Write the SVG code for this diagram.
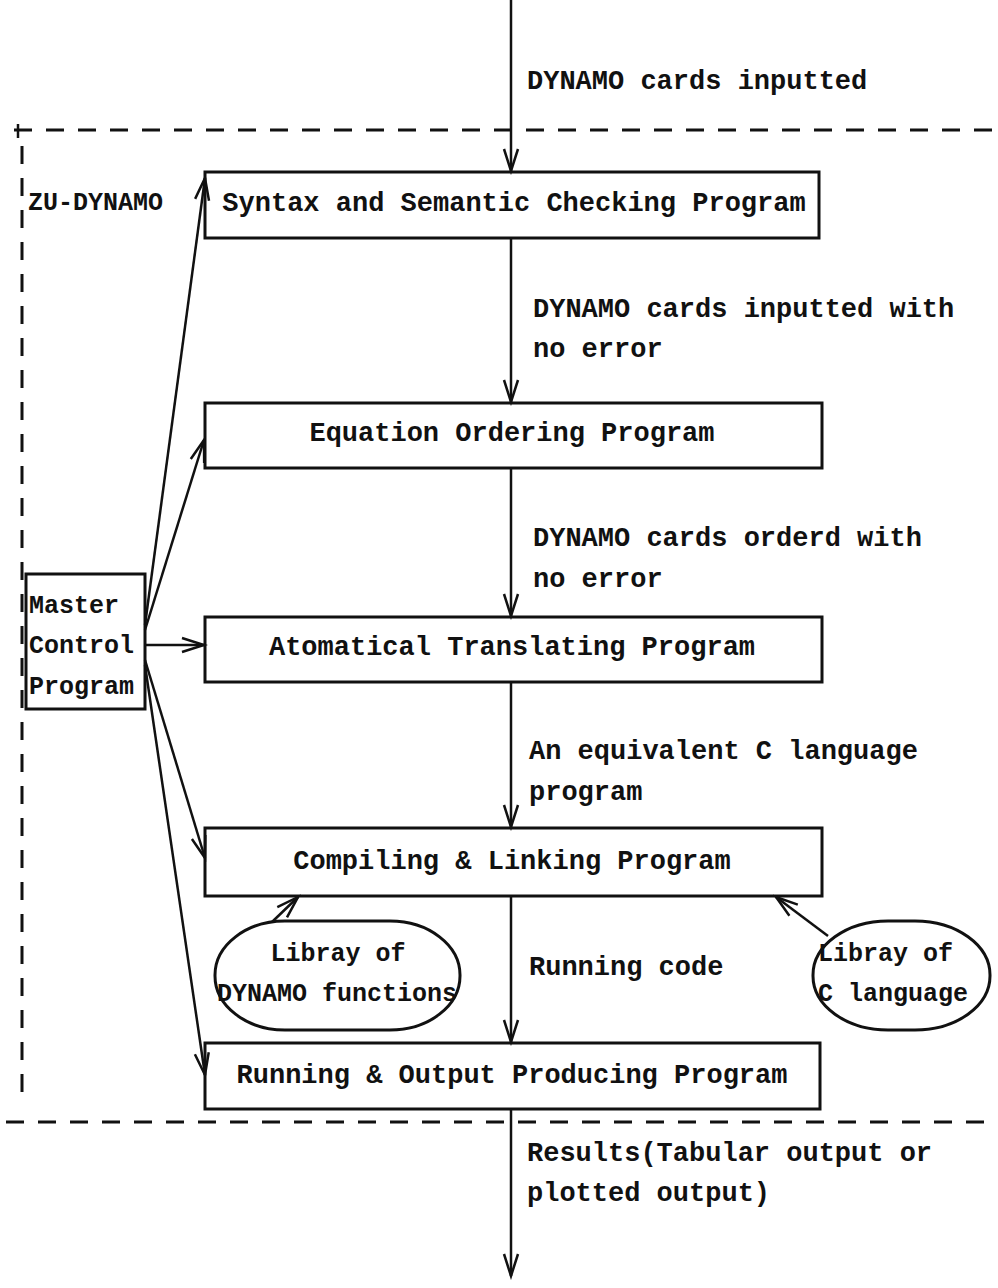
<svg xmlns="http://www.w3.org/2000/svg" width="998" height="1288" viewBox="0 0 998 1288">
<style>
text{font-family:"Liberation Mono","DejaVu Sans Mono",monospace;font-size:27px;fill:#111;font-weight:bold}
.sm{font-size:25px}
.box{fill:none;stroke:#111;stroke-width:3}
.ln{fill:none;stroke:#111;stroke-width:2.5}
.dash{fill:none;stroke:#111;stroke-width:3;stroke-dasharray:18 14}
</style>
<defs>
<marker id="ah" markerUnits="userSpaceOnUse" markerWidth="30" markerHeight="30" viewBox="-26 -10 30 20" refX="0" refY="0" orient="auto">
<path d="M-22,-7 L0,0 L-22,7" fill="none" stroke="#111" stroke-width="2.5"/>
</marker>
</defs>
<rect width="998" height="1288" fill="#fff"/>
<g id="boundary">
<line class="dash" x1="14" y1="130" x2="998" y2="130"/>
<line class="ln" x1="18" y1="124" x2="18" y2="138"/>
<line class="dash" x1="22" y1="146" x2="22" y2="1100"/>
<line class="dash" x1="6" y1="1122" x2="998" y2="1122"/>
<text x="28" y="210" class="sm">ZU-DYNAMO</text>
</g>
<g id="n1"><rect class="box" x="205" y="172" width="614" height="66"/><text x="514" y="211" text-anchor="middle">Syntax and Semantic Checking Program</text></g>
<g id="n2"><rect class="box" x="205" y="403" width="617" height="65"/><text x="512" y="441" text-anchor="middle">Equation Ordering Program</text></g>
<g id="n3"><rect class="box" x="205" y="617" width="617" height="65"/><text x="512" y="655" text-anchor="middle">Atomatical Translating Program</text></g>
<g id="n4"><rect class="box" x="205" y="828" width="617" height="68"/><text x="512" y="869" text-anchor="middle">Compiling &amp; Linking Program</text></g>
<g id="n5"><rect class="box" x="205" y="1043" width="615" height="66"/><text x="512" y="1083" text-anchor="middle">Running &amp; Output Producing Program</text></g>
<g id="master"><rect class="box" x="26" y="574" width="119" height="135"/>
<text x="29" y="613" class="sm">Master</text><text x="29" y="653" class="sm">Control</text><text x="29" y="694" class="sm">Program</text></g>
<g id="lib1"><rect class="box" x="215" y="921" width="245" height="109" rx="70" ry="54"/>
<text x="338" y="961" text-anchor="middle" class="sm">Libray of</text><text x="337" y="1001" text-anchor="middle" class="sm">DYNAMO functions</text></g>
<g id="lib2"><rect class="box" x="813" y="921" width="177" height="109" rx="75" ry="54"/>
<text x="818" y="961" class="sm">Libray of</text><text x="818" y="1001" class="sm">C language</text></g>
<g id="connectors">
<line class="ln" x1="511" y1="0" x2="511" y2="171" marker-end="url(#ah)"/>
<line class="ln" x1="511" y1="238" x2="511" y2="402" marker-end="url(#ah)"/>
<line class="ln" x1="511" y1="468" x2="511" y2="616" marker-end="url(#ah)"/>
<line class="ln" x1="511" y1="682" x2="511" y2="827" marker-end="url(#ah)"/>
<line class="ln" x1="511" y1="896" x2="511" y2="1042" marker-end="url(#ah)"/>
<line class="ln" x1="511" y1="1109" x2="511" y2="1276" marker-end="url(#ah)"/>
<line class="ln" x1="145" y1="625" x2="205" y2="178" marker-end="url(#ah)"/>
<line class="ln" x1="145" y1="630" x2="204" y2="440" marker-end="url(#ah)"/>
<line class="ln" x1="145" y1="645" x2="204" y2="645" marker-end="url(#ah)"/>
<line class="ln" x1="145" y1="660" x2="205" y2="858" marker-end="url(#ah)"/>
<line class="ln" x1="145" y1="665" x2="205" y2="1075" marker-end="url(#ah)"/>
<line class="ln" x1="272" y1="922" x2="298" y2="897" marker-end="url(#ah)"/>
<line class="ln" x1="828" y1="936" x2="776" y2="897" marker-end="url(#ah)"/>
<text x="527" y="89">DYNAMO cards inputted</text>
<text x="533" y="317">DYNAMO cards inputted with</text>
<text x="533" y="357">no error</text>
<text x="533" y="546">DYNAMO cards orderd with</text>
<text x="533" y="587">no error</text>
<text x="529" y="759">An equivalent C language</text>
<text x="529" y="800">program</text>
<text x="529" y="975">Running code</text>
<text x="527" y="1161">Results(Tabular output or</text>
<text x="527" y="1201">plotted output)</text>
</g>
</svg>
